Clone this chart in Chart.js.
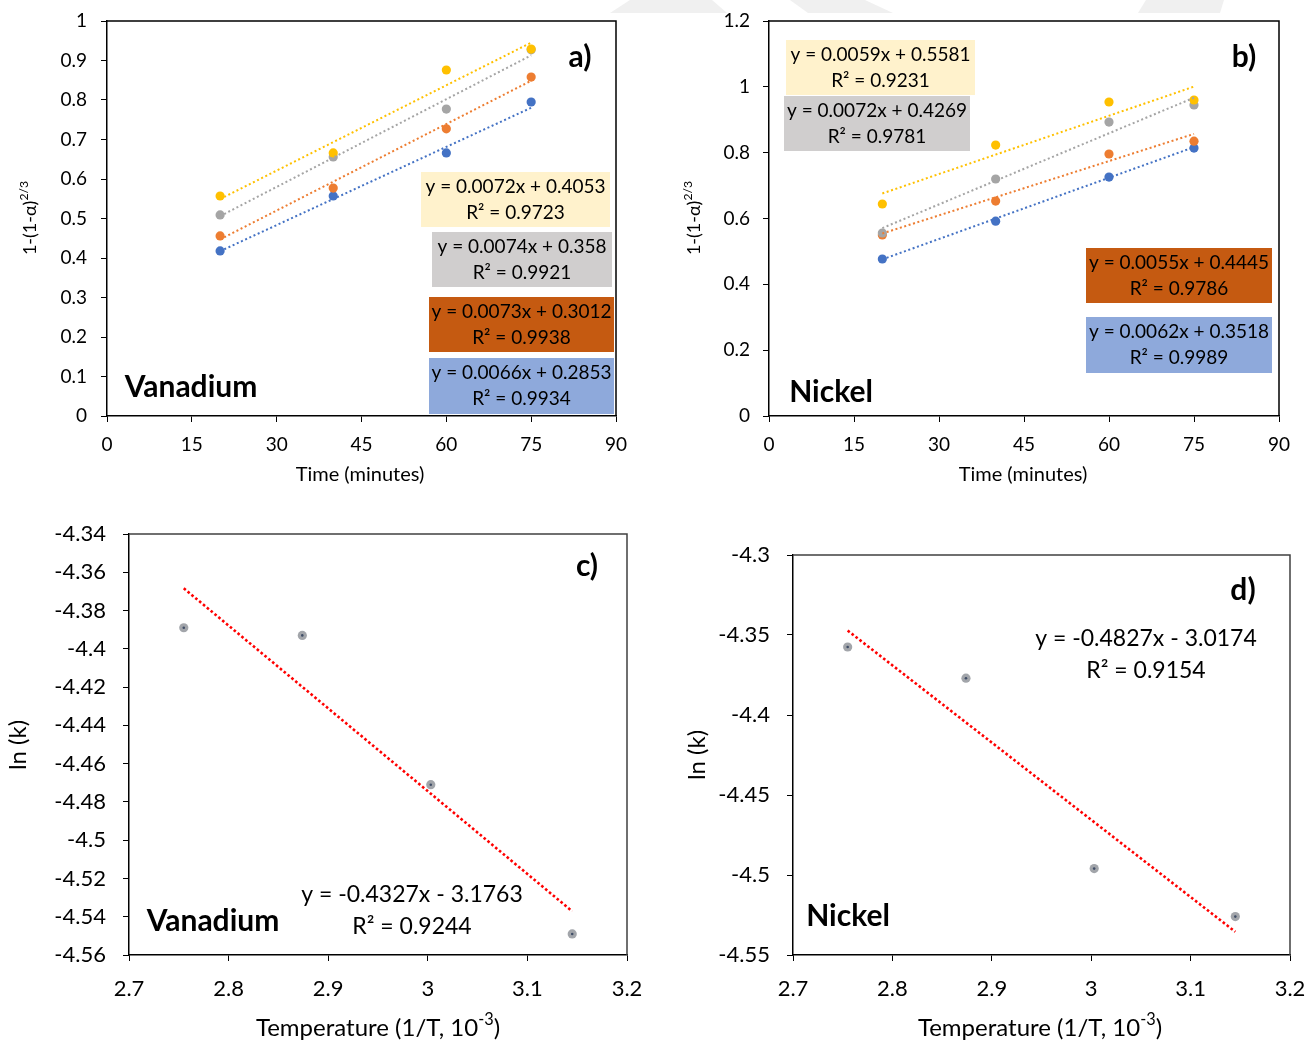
<!DOCTYPE html>
<html>
<head>
<meta charset="utf-8">
<script src="https://cdn.jsdelivr.net/npm/chart.js@4.4.1/dist/chart.umd.min.js"></script>
<style>
  html, body { margin: 0; padding: 0; background: #fff; }
  #page { position: relative; width: 1306px; height: 1040px; overflow: hidden; }
  #page canvas, #page svg { position: absolute; }
</style>
</head>
<body>
<div id="page">
  <svg width="1306" height="30" style="left:0;top:0">
    <polygon points="630,0 712,0 727,13 610,13" fill="#f0f0f0"/>
    <polygon points="790,0 865,0 893,13 808,13" fill="#f0f0f0"/>
    <polygon points="1146,0 1224,0 1220,13 1138,13" fill="#f0f0f0"/>
  </svg>
  <canvas id="cA" width="650" height="500" style="left:0;top:0"></canvas>
  <canvas id="cB" width="656" height="500" style="left:650px;top:0"></canvas>
  <canvas id="cC" width="650" height="535" style="left:0;top:505px"></canvas>
  <canvas id="cD" width="656" height="535" style="left:650px;top:505px"></canvas>
</div>
<script>
const FONT = 'Lato, "Open Sans", sans-serif';

// sampling times (minutes)
const timeMin = [20, 40, 60, 75];

// vanadium, 1-(1-a)^(2/3) per run
const vanYellow = [0.557, 0.666, 0.876, 0.929];
const vanGray   = [0.509, 0.656, 0.777, 0.927];
const vanOrange = [0.456, 0.577, 0.727, 0.858];
const vanBlue   = [0.418, 0.557, 0.666, 0.795];
// fits, same order: yellow, gray, orange, blue
const vanSlope     = [0.0072, 0.0074, 0.0073, 0.0066];
const vanIntercept = [0.4053, 0.358, 0.3012, 0.2853];
const vanR2        = [0.9723, 0.9921, 0.9938, 0.9934];

// nickel
const niYellow = [0.644, 0.823, 0.954, 0.960];
const niGray   = [0.556, 0.720, 0.893, 0.945];
const niOrange = [0.550, 0.653, 0.796, 0.835];
const niBlue   = [0.477, 0.592, 0.726, 0.814];
const niSlope     = [0.0059, 0.0072, 0.0055, 0.0062];
const niIntercept = [0.5581, 0.4269, 0.4445, 0.3518];
const niR2        = [0.9231, 0.9781, 0.9786, 0.9989];

// Arrhenius plots
const invT  = [2.755, 2.874, 3.003, 3.145];
const lnkV  = [-4.389, -4.393, -4.471, -4.549];
const lnkNi = [-4.3575, -4.377, -4.496, -4.526];
const arrSlope     = [-0.4327, -0.4827];
const arrIntercept = [-3.1763, -3.0174];
const arrR2        = [0.9244, 0.9154];

// tick values
const timeTicks = [0, 15, 30, 45, 60, 75, 90];
const vanYTicks = [0, 0.1, 0.2, 0.3, 0.4, 0.5, 0.6, 0.7, 0.8, 0.9, 1];
const niYTicks  = [0, 0.2, 0.4, 0.6, 0.8, 1, 1.2];
const invTTicks = [2.7, 2.8, 2.9, 3, 3.1, 3.2];
const lnkVTicks = [-4.56, -4.54, -4.52, -4.5, -4.48, -4.46, -4.44, -4.42, -4.4, -4.38, -4.36, -4.34];
const lnkNiTicks = [-4.55, -4.5, -4.45, -4.4, -4.35, -4.3];

const seriesColors = ['#FFC000', '#A5A5A5', '#ED7D31', '#4472C4'];
const boxColors    = ['#FFF2CC', '#D0CECE', '#C55A11', '#8EA9DB'];

const num = v => String(+v.toFixed(4));
const linEq = (m, b) => 'y = ' + num(m) + 'x ' + (b < 0 ? '- ' : '+ ') + num(Math.abs(b));

function drawRuns(ctx, runs, x, y, size, weight, rot) {
  ctx.save();
  ctx.translate(x, y);
  if (rot) ctx.rotate(rot);
  ctx.textBaseline = 'middle';
  ctx.fillStyle = '#000';
  const parts = runs.map(r => {
    const fs = r.sup ? size * 0.68 : size;
    ctx.font = weight + ' ' + fs + 'px ' + FONT;
    return { r, fs, w: ctx.measureText(r.t).width };
  });
  let cx = -parts.reduce((s, p) => s + p.w, 0) / 2;
  parts.forEach(p => {
    ctx.font = weight + ' ' + p.fs + 'px ' + FONT;
    ctx.fillText(p.r.t, cx, p.r.sup ? -size * 0.33 : 0);
    cx += p.w;
  });
  ctx.restore();
}

// frame, equation boxes and free text for one panel
function decor(spec) {
  return {
    id: 'decor',
    afterDatasetsDraw(chart) {
      const ctx = chart.ctx, a = chart.chartArea;
      ctx.save();
      ctx.strokeStyle = spec.frame;
      ctx.lineWidth = 1.5;
      ctx.beginPath();
      ctx.moveTo(a.left, a.top); ctx.lineTo(a.right, a.top); ctx.lineTo(a.right, a.bottom);
      ctx.stroke();
      (spec.boxes || []).forEach(b => {
        ctx.fillStyle = b.fill;
        ctx.fillRect(b.x, b.y, b.w, b.h);
        b.lines.forEach((t, i) => drawRuns(ctx, [{ t }], b.x + b.w / 2, b.y + 15 + i * 26, spec.eqSize, 'normal'));
      });
      ctx.restore();
      spec.texts.forEach(t => drawRuns(ctx, t.runs, t.x, t.y, t.size, t.weight || 'normal', t.rot || 0));
    }
  };
}

function axis(vals, min, max, size, pad, dp, isX, fit) {
  return {
    type: 'linear', min, max,
    afterBuildTicks: s => { s.ticks = vals.map(v => ({ value: v })); },
    afterFit: s => {
      if (isX) s.height = fit; else s.width = fit;
      // plot box is fixed by layout padding, so no label overhang
      s.paddingTop = s.paddingBottom = s.paddingLeft = s.paddingRight = 0;
    },
    grid: { drawOnChartArea: false, drawTicks: true, tickLength: 6, color: '#000', lineWidth: 1 },
    border: { display: true, color: '#000', width: 1.5 },
    ticks: {
      color: '#000', padding: pad, autoSkip: false, maxRotation: 0,
      font: { family: FONT, size },
      callback: v => String(+(+v).toFixed(dp))
    }
  };
}

function makePanel(id, w, h, area, scales, datasets, spec) {
  new Chart(document.getElementById(id), {
    type: 'scatter',
    data: { datasets },
    options: {
      responsive: false, animation: false,
      layout: { padding: { left: 0, top: area.top, right: w - area.right, bottom: 0 } },
      plugins: { legend: { display: false }, tooltip: { enabled: false } },
      scales
    },
    plugins: [decor(spec)]
  });
}

function kineticSets(series, slopes, intercepts) {
  const sets = [];
  series.forEach((ys, i) => {
    sets.push({
      data: timeMin.map((x, j) => ({ x, y: ys[j] })),
      pointRadius: 4.6, pointBackgroundColor: seriesColors[i], pointBorderWidth: 0, order: 1
    });
    const x0 = timeMin[0], x1 = timeMin[timeMin.length - 1];
    sets.push({
      data: [{ x: x0, y: slopes[i] * x0 + intercepts[i] }, { x: x1, y: slopes[i] * x1 + intercepts[i] }],
      showLine: true, pointRadius: 0, borderColor: seriesColors[i], borderWidth: 2,
      borderDash: [2, 2.6], order: 0
    });
  });
  return sets;
}

function arrheniusSets(ys, k) {
  const x0 = invT[0], x1 = invT[invT.length - 1];
  return [
    { data: invT.map((x, j) => ({ x, y: ys[j] })), pointRadius: 1.3, pointBackgroundColor: '#3f4d66', pointBorderWidth: 0, order: 0 },
    { data: invT.map((x, j) => ({ x, y: ys[j] })), pointRadius: 4.6, pointBackgroundColor: '#a2a5aa', pointBorderWidth: 0, order: 2 },
    {
      data: [{ x: x0, y: arrSlope[k] * x0 + arrIntercept[k] }, { x: x1, y: arrSlope[k] * x1 + arrIntercept[k] }],
      showLine: true, pointRadius: 0, borderColor: '#FF0000', borderWidth: 2.6, borderDash: [2.6, 2.4], order: 1
    }
  ];
}

const eqBox = (x, y, w, h, i, slopes, ints, r2) =>
  ({ x, y, w, h, fill: boxColors[i], lines: [linEq(slopes[i], ints[i]), 'R² = ' + num(r2[i])] });

// a) vanadium kinetics
makePanel('cA', 650, 500, { left: 107, top: 21, right: 616, bottom: 416 }, {
  x: axis(timeTicks, 0, 90, 19, 11, 0, true, 84),
  y: axis(vanYTicks, 0, 1, 19, 14, 1, false, 107)
}, kineticSets([vanYellow, vanGray, vanOrange, vanBlue], vanSlope, vanIntercept), {
  frame: '#000', eqSize: 19,
  boxes: [
    eqBox(421, 172, 189, 55, 0, vanSlope, vanIntercept, vanR2),
    eqBox(432, 232, 180, 55, 1, vanSlope, vanIntercept, vanR2),
    eqBox(429, 297, 185, 55, 2, vanSlope, vanIntercept, vanR2),
    eqBox(429, 358, 185, 56, 3, vanSlope, vanIntercept, vanR2)
  ],
  texts: [
    { runs: [{ t: '1-(1-α)' }, { t: '2/3', sup: true }], x: 30, y: 218, size: 18, rot: -Math.PI / 2 },
    { runs: [{ t: 'Time (minutes)' }], x: 360, y: 475, size: 20 },
    { runs: [{ t: 'a)' }], x: 580, y: 57, size: 30, weight: 'bold' },
    { runs: [{ t: 'Vanadium' }], x: 191, y: 387, size: 30, weight: 'bold' }
  ]
});

// b) nickel kinetics
makePanel('cB', 656, 500, { left: 119, top: 21, right: 629, bottom: 416 }, {
  x: axis(timeTicks, 0, 90, 19, 11, 0, true, 84),
  y: axis(niYTicks, 0, 1.2, 19, 13, 1, false, 119)
}, kineticSets([niYellow, niGray, niOrange, niBlue], niSlope, niIntercept), {
  frame: '#000', eqSize: 19,
  boxes: [
    eqBox(136, 40, 189, 55, 0, niSlope, niIntercept, niR2),
    eqBox(134, 96, 186, 55, 1, niSlope, niIntercept, niR2),
    eqBox(436, 248, 186, 55, 2, niSlope, niIntercept, niR2),
    eqBox(436, 317, 186, 56, 3, niSlope, niIntercept, niR2)
  ],
  texts: [
    { runs: [{ t: '1-(1-α)' }, { t: '2/3', sup: true }], x: 44, y: 218, size: 18, rot: -Math.PI / 2 },
    { runs: [{ t: 'Time (minutes)' }], x: 373, y: 475, size: 20 },
    { runs: [{ t: 'b)' }], x: 594, y: 57, size: 30, weight: 'bold' },
    { runs: [{ t: 'Nickel' }], x: 181, y: 392, size: 30, weight: 'bold' }
  ]
});

// c) vanadium Arrhenius
makePanel('cC', 650, 535, { left: 129, top: 29, right: 627, bottom: 450 }, {
  x: axis(invTTicks, 2.7, 3.2, 22, 15, 1, true, 85),
  y: axis(lnkVTicks, -4.56, -4.34, 22, 17, 2, false, 129)
}, arrheniusSets(lnkV, 0), {
  frame: '#404040',
  texts: [
    { runs: [{ t: 'ln (k)' }], x: 18, y: 240, size: 24, rot: -Math.PI / 2 },
    { runs: [{ t: 'Temperature (1/T, 10' }, { t: '-3', sup: true }, { t: ')' }], x: 378, y: 523, size: 24 },
    { runs: [{ t: 'c)' }], x: 587, y: 61, size: 30, weight: 'bold' },
    { runs: [{ t: 'Vanadium' }], x: 213, y: 416, size: 30, weight: 'bold' },
    { runs: [{ t: linEq(arrSlope[0], arrIntercept[0]) }], x: 412, y: 390, size: 23 },
    { runs: [{ t: 'R² = ' + num(arrR2[0]) }], x: 412, y: 422, size: 23 }
  ]
});

// d) nickel Arrhenius
makePanel('cD', 656, 535, { left: 143, top: 50, right: 640, bottom: 450 }, {
  x: axis(invTTicks, 2.7, 3.2, 22, 15, 1, true, 85),
  y: axis(lnkNiTicks, -4.55, -4.3, 22, 17, 2, false, 143)
}, arrheniusSets(lnkNi, 1), {
  frame: '#404040',
  texts: [
    { runs: [{ t: 'ln (k)' }], x: 47, y: 250, size: 24, rot: -Math.PI / 2 },
    { runs: [{ t: 'Temperature (1/T, 10' }, { t: '-3', sup: true }, { t: ')' }], x: 390, y: 523, size: 24 },
    { runs: [{ t: 'd)' }], x: 593, y: 85, size: 30, weight: 'bold' },
    { runs: [{ t: 'Nickel' }], x: 198, y: 411, size: 30, weight: 'bold' },
    { runs: [{ t: linEq(arrSlope[1], arrIntercept[1]) }], x: 496, y: 134, size: 23 },
    { runs: [{ t: 'R² = ' + num(arrR2[1]) }], x: 496, y: 166, size: 23 }
  ]
});
</script>
</body>
</html>
